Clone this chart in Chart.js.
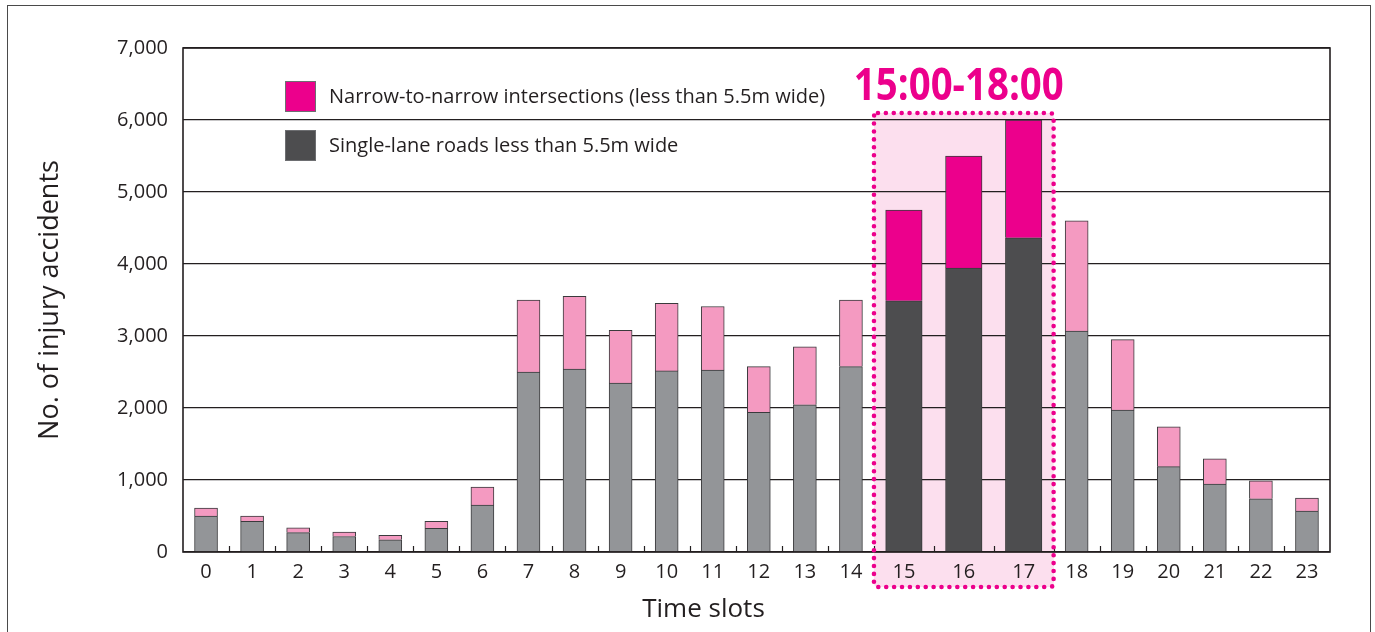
<!DOCTYPE html>
<html>
<head>
<meta charset="utf-8">
<title>Injury accidents by time slot</title>
<script src="https://cdn.jsdelivr.net/npm/chart.js@4.4.1/dist/chart.umd.min.js"></script>
<style>
  html, body { margin: 0; padding: 0; background: #ffffff; }
  #wrap { position: relative; width: 1375px; height: 632px; overflow: hidden; }
  #frame { position: absolute; left: 7px; top: 5px; width: 1364px; height: 700px;
           border: 1.5px solid #4a4a4a; box-sizing: border-box; }
  #holder { position: absolute; left: 0; top: 0; width: 1375px; height: 632px; }
</style>
</head>
<body>
<div id="wrap">
  <div id="frame"></div>
  <div id="holder"><canvas id="chart"></canvas></div>
</div>
<script>
// Hour-of-day slots
const HOURS = ['0','1','2','3','4','5','6','7','8','9','10','11','12','13','14','15','16','17','18','19','20','21','22','23'];

// Injury accidents on single-lane roads less than 5.5m wide
const SINGLE_LANE = [500, 425, 270, 215, 170, 330, 650, 2500, 2540, 2345, 2515, 2525,
                     1940, 2045, 2575, 3490, 3945, 4365, 3070, 1970, 1185, 945, 740, 570];

// Injury accidents at narrow-to-narrow intersections (stacked on top)
const INTERSECTIONS = [110, 75, 65, 60, 60, 95, 250, 1000, 1010, 735, 940, 885,
                       635, 805, 925, 1260, 1555, 1635, 1530, 980, 555, 350, 250, 180];

const Y_TICKS = [0, 1000, 2000, 3000, 4000, 5000, 6000, 7000];

const SERIES_NAMES = ['Narrow-to-narrow intersections (less than 5.5m wide)',
                      'Single-lane roads less than 5.5m wide'];

const X_TITLE = 'Time slots';
const Y_TITLE = 'No. of injury accidents';

// Evening peak slots
const PEAK_HOURS = [15, 16, 17];
const PEAK_LABEL = '15:00-18:00';

const INK = '#231f20';
const COLORS = {
  single: '#939598',
  singlePeak: '#4d4d4f',
  inter: '#f49ac1',
  interPeak: '#ec008c',
  band: '#fcdfee',
  edge: '#3a3a3c'
};

const isPeak = i => PEAK_HOURS.includes(i);

// Peak slots are drawn wider than the rest
const SLOT_WEIGHT = HOURS.map((h, i) => isPeak(i) ? 1.3 : 1);
const EDGES = [0];
SLOT_WEIGHT.forEach(w => EDGES.push(EDGES[EDGES.length - 1] + w));
const CENTERS = HOURS.map((h, i) => (EDGES[i] + EDGES[i + 1]) / 2);

const points = (values, keep) =>
  values.map((v, i) => ({ x: CENTERS[i], y: v, keep: keep(i) }))
        .filter(p => p.keep)
        .map(p => ({ x: p.x, y: p.y }));

const barStyle = (color, thickness) => ({
  backgroundColor: color,
  borderColor: COLORS.edge,
  borderWidth: 1,
  barThickness: thickness,
  grouped: false
});

const datasets = [
  Object.assign({ label: SERIES_NAMES[1], data: points(SINGLE_LANE, i => !isPeak(i)) }, barStyle(COLORS.single, 23)),
  Object.assign({ label: SERIES_NAMES[0], data: points(INTERSECTIONS, i => !isPeak(i)) }, barStyle(COLORS.inter, 23)),
  Object.assign({ label: SERIES_NAMES[1], data: points(SINGLE_LANE, isPeak) }, barStyle(COLORS.singlePeak, 36.5)),
  Object.assign({ label: SERIES_NAMES[0], data: points(INTERSECTIONS, isPeak) }, barStyle(COLORS.interPeak, 36.5))
];

const LEGEND_ITEMS = [
  { text: SERIES_NAMES[0], color: COLORS.interPeak },
  { text: SERIES_NAMES[1], color: COLORS.singlePeak }
];

// Geometry of the highlighted peak band
function peakBox(chart) {
  const x = chart.scales.x, y = chart.scales.y;
  const first = PEAK_HOURS[0], last = PEAK_HOURS[PEAK_HOURS.length - 1];
  const peakMax = Math.max(...PEAK_HOURS.map(i => SINGLE_LANE[i] + INTERSECTIONS[i]));
  return {
    left: x.getPixelForValue(EDGES[first]),
    right: x.getPixelForValue(EDGES[last + 1]),
    top: y.getPixelForValue(peakMax) - 7,
    bottom: chart.chartArea.bottom + 35
  };
}

function roundRectPath(ctx, l, t, r, b, rad) {
  ctx.beginPath();
  ctx.moveTo(l + rad, t);
  ctx.lineTo(r - rad, t);
  ctx.quadraticCurveTo(r, t, r, t + rad);
  ctx.lineTo(r, b - rad);
  ctx.quadraticCurveTo(r, b, r - rad, b);
  ctx.lineTo(l + rad, b);
  ctx.quadraticCurveTo(l, b, l, b - rad);
  ctx.lineTo(l, t + rad);
  ctx.quadraticCurveTo(l, t, l + rad, t);
  ctx.closePath();
}

const peakBand = {
  id: 'peakBand',
  beforeDraw(chart) {
    const ctx = chart.ctx, box = peakBox(chart);
    ctx.save();
    ctx.fillStyle = COLORS.band;
    roundRectPath(ctx, box.left, box.top, box.right, box.bottom, 4);
    ctx.fill();
    ctx.restore();
  },
  afterDraw(chart) {
    const ctx = chart.ctx, box = peakBox(chart);
    ctx.save();
    ctx.strokeStyle = COLORS.interPeak;
    ctx.lineWidth = 4.6;
    ctx.lineCap = 'round';
    ctx.setLineDash([0, 7.9]);
    roundRectPath(ctx, box.left, box.top, box.right, box.bottom, 4);
    ctx.stroke();
    ctx.setLineDash([]);

    ctx.font = 'bold 44px "Open Sans", sans-serif';
    const w = ctx.measureText(PEAK_LABEL).width;
    ctx.translate((box.left + box.right) / 2 - 5, box.top - 13);
    ctx.scale(210 / w, 1);
    ctx.fillStyle = COLORS.interPeak;
    ctx.textAlign = 'center';
    ctx.textBaseline = 'alphabetic';
    ctx.fillText(PEAK_LABEL, 0, 0);
    ctx.restore();
  }
};

const frameAndLegend = {
  id: 'frameAndLegend',
  afterDatasetsDraw(chart) {
    const ctx = chart.ctx, a = chart.chartArea, x = chart.scales.x;
    ctx.save();
    // small ticks between slots
    ctx.strokeStyle = INK;
    ctx.lineWidth = 1.2;
    for (let i = 1; i < HOURS.length; i++) {
      const px = Math.round(x.getPixelForValue(EDGES[i])) + 0.5;
      ctx.beginPath();
      ctx.moveTo(px, a.bottom - 6);
      ctx.lineTo(px, a.bottom);
      ctx.stroke();
    }
    // plot frame
    ctx.lineWidth = 1.6;
    ctx.strokeRect(a.left, a.top, a.right - a.left, a.bottom - a.top);

    // legend
    ctx.font = '20px "Open Sans", sans-serif';
    ctx.textBaseline = 'middle';
    ctx.textAlign = 'left';
    LEGEND_ITEMS.forEach((item, k) => {
      const sx = a.left + 102, sy = a.top + 33 + k * 49;
      ctx.fillStyle = item.color;
      ctx.fillRect(sx, sy, 31, 31);
      ctx.strokeStyle = '#6d6e71';
      ctx.lineWidth = 1;
      ctx.strokeRect(sx + 0.5, sy + 0.5, 30, 30);
      ctx.fillStyle = INK;
      ctx.fillText(item.text, sx + 44, sy + 16);
    });

    // horizontal axis title
    ctx.font = '26px "Open Sans", sans-serif';
    ctx.textAlign = 'center';
    ctx.textBaseline = 'alphabetic';
    ctx.fillText(X_TITLE, (a.left + a.right) / 2 - 53, a.bottom + 65);
    ctx.restore();
  }
};

Chart.defaults.font.family = '"Open Sans", sans-serif';
Chart.defaults.color = INK;

new Chart(document.getElementById('chart'), {
  type: 'bar',
  data: { datasets },
  options: {
    responsive: true,
    maintainAspectRatio: false,
    animation: false,
    layout: { padding: { left: 34, top: 48, right: 45, bottom: 0 } },
    plugins: { legend: { display: false }, tooltip: { enabled: false } },
    scales: {
      x: {
        type: 'linear',
        min: 0,
        max: EDGES[EDGES.length - 1],
        bounds: 'data',
        offset: false,
        grid: { display: false, drawTicks: false },
        border: { display: false },
        afterBuildTicks: scale => { scale.ticks = CENTERS.map(v => ({ value: v })); },
        afterFit: scale => { scale.height = 80; },
        ticks: {
          autoSkip: false,
          maxRotation: 0,
          padding: 8,
          font: { size: 20 },
          color: INK,
          callback: (value, index) => HOURS[index]
        }
      },
      y: {
        stacked: true,
        min: Y_TICKS[0],
        max: Y_TICKS[Y_TICKS.length - 1],
        afterBuildTicks: scale => { scale.ticks = Y_TICKS.map(v => ({ value: v })); },
        afterFit: scale => { scale.width = 183 - 34; },
        grid: { color: INK, lineWidth: 1.2, drawTicks: false },
        border: { display: false },
        ticks: {
          padding: 15,
          font: { size: 20 },
          color: INK,
          callback: v => Number(v).toLocaleString('en-US')
        },
        title: {
          display: true,
          text: Y_TITLE,
          font: { size: 27 },
          color: INK,
          padding: 0
        }
      }
    }
  },
  plugins: [peakBand, frameAndLegend]
});
</script>
</body>
</html>
